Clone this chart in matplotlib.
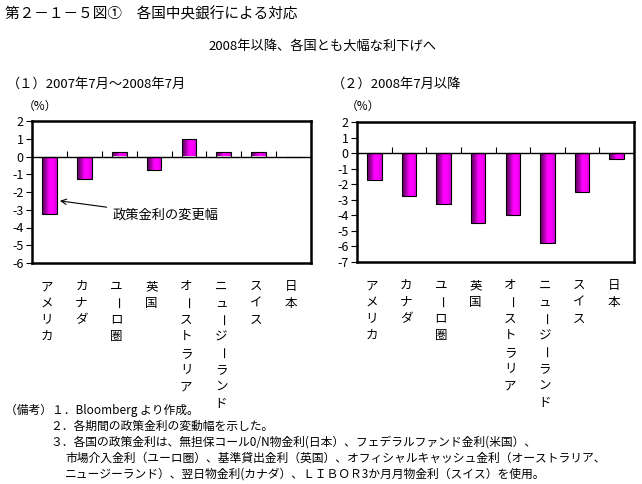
import matplotlib.pyplot as plt
import numpy as np
from matplotlib.colors import LinearSegmentedColormap

plt.rcParams['font.family'] = ['Noto Sans CJK JP', 'DejaVu Sans']

countries = ["アメリカ", "カナダ", "ユーロ圏", "英国", "オーストラリア", "ニュージーランド", "スイス", "日本"]
change_2007_2008 = [-3.25, -1.25, 0.25, -0.75, 1.0, 0.25, 0.25, 0.0]
change_since_2008 = [-1.75, -2.75, -3.25, -4.5, -4.0, -5.75, -2.5, -0.4]

W, H = 642, 484
fig = plt.figure(figsize=(W / 100, H / 100), dpi=100)


def px(x, y):
    return x / W, 1 - y / H


bar_cmap = LinearSegmentedColormap.from_list(
    "mag", ["#5a005a", "#a000a0", "#ff00ff", "#ff00ff", "#d000d0"])
grad = np.linspace(0, 1, 64).reshape(1, -1)


def panel(rect, values, ymin, pct_xy):
    ax = fig.add_axes(rect)
    xs = np.arange(len(values))
    bars = ax.bar(xs, values, width=0.42, facecolor="none",
                  edgecolor="black", linewidth=0.8, zorder=3)
    for b in bars:
        x0, y0 = b.get_xy()
        w, h = b.get_width(), b.get_height()
        if h == 0:
            continue
        im = ax.imshow(grad, extent=[x0, x0 + w, y0, y0 + h], cmap=bar_cmap,
                       aspect="auto", zorder=2, interpolation="bilinear")
        im.set_clip_path(b)
    ax.axhline(0, color="black", lw=1.0, zorder=4)
    bounds = np.arange(len(values) - 1) + 0.5
    ax.plot(bounds, np.zeros(len(bounds)), ls="none", marker=2,
            markersize=4, color="black", mew=0.8, zorder=4)
    ax.set_xlim(-0.5, len(values) - 0.5)
    ax.set_ylim(ymin, 2)
    ax.set_yticks(range(ymin, 3))
    ax.set_yticklabels([str(v) for v in range(ymin, 3)], fontsize=9)
    ax.tick_params(axis="y", length=4, width=0.8, pad=2)
    ax.set_xticks([])
    for s in ax.spines.values():
        s.set_linewidth(1.8)
    # vertical category labels, one character at a time
    for i, name in enumerate(countries):
        for k, ch in enumerate(name):
            ax.annotate(ch, xy=(xs[i] - 0.08, 0), xycoords=("data", "axes fraction"),
                        xytext=(0, -17 - 12 * k), textcoords="offset points",
                        ha="center", va="center", fontsize=9,
                        rotation=-90 if ch == "ー" else 0)
    fig.text(*px(*pct_xy), "（%）", fontsize=8.5, ha="center", va="center")
    return ax, bars


fig.text(*px(5, 14), "第２－１－５図①　各国中央銀行による対応", fontsize=10.5, va="center")
fig.text(*px(322, 46), "2008年以降、各国とも大幅な利下げへ", fontsize=9.5, ha="center", va="center")
fig.text(*px(7, 84), "（１）2007年7月～2008年7月", fontsize=9.5, va="center")
fig.text(*px(332, 84), "（２）2008年7月以降", fontsize=9.5, va="center")

ax1, bars1 = panel([32 / W, 1 - 263 / H, 279 / W, 142 / H], change_2007_2008, -6, (40, 106))
ax2, bars2 = panel([357 / W, 1 - 262 / H, 277 / W, 140 / H], change_since_2008, -7, (363, 106))

ax1.annotate("政策金利の変更幅", xy=(0.3, -2.5), xytext=(1.8, -3.3),
             fontsize=9.5, va="center", ha="left",
             arrowprops=dict(arrowstyle="->", color="black", lw=0.8,
                             shrinkA=2, shrinkB=0))

notes = [
    (5, 410, "（備考）１．Bloomberg より作成。"),
    (50, 426, "２．各期間の政策金利の変動幅を示した。"),
    (50, 442, "３．各国の政策金利は、無担保コール0/N物金利(日本）、フェデラルファンド金利(米国）、"),
    (65, 458, "市場介入金利（ユーロ圏）、基準貸出金利（英国）、オフィシャルキャッシュ金利（オーストラリア、"),
    (65, 474, "ニュージーランド）、翌日物金利(カナダ）、ＬＩＢＯＲ3か月月物金利（スイス）を使用。"),
]
for x, y, t in notes:
    fig.text(*px(x, y), t, fontsize=8.5, va="center")

fig.savefig("out.png", dpi=100)
